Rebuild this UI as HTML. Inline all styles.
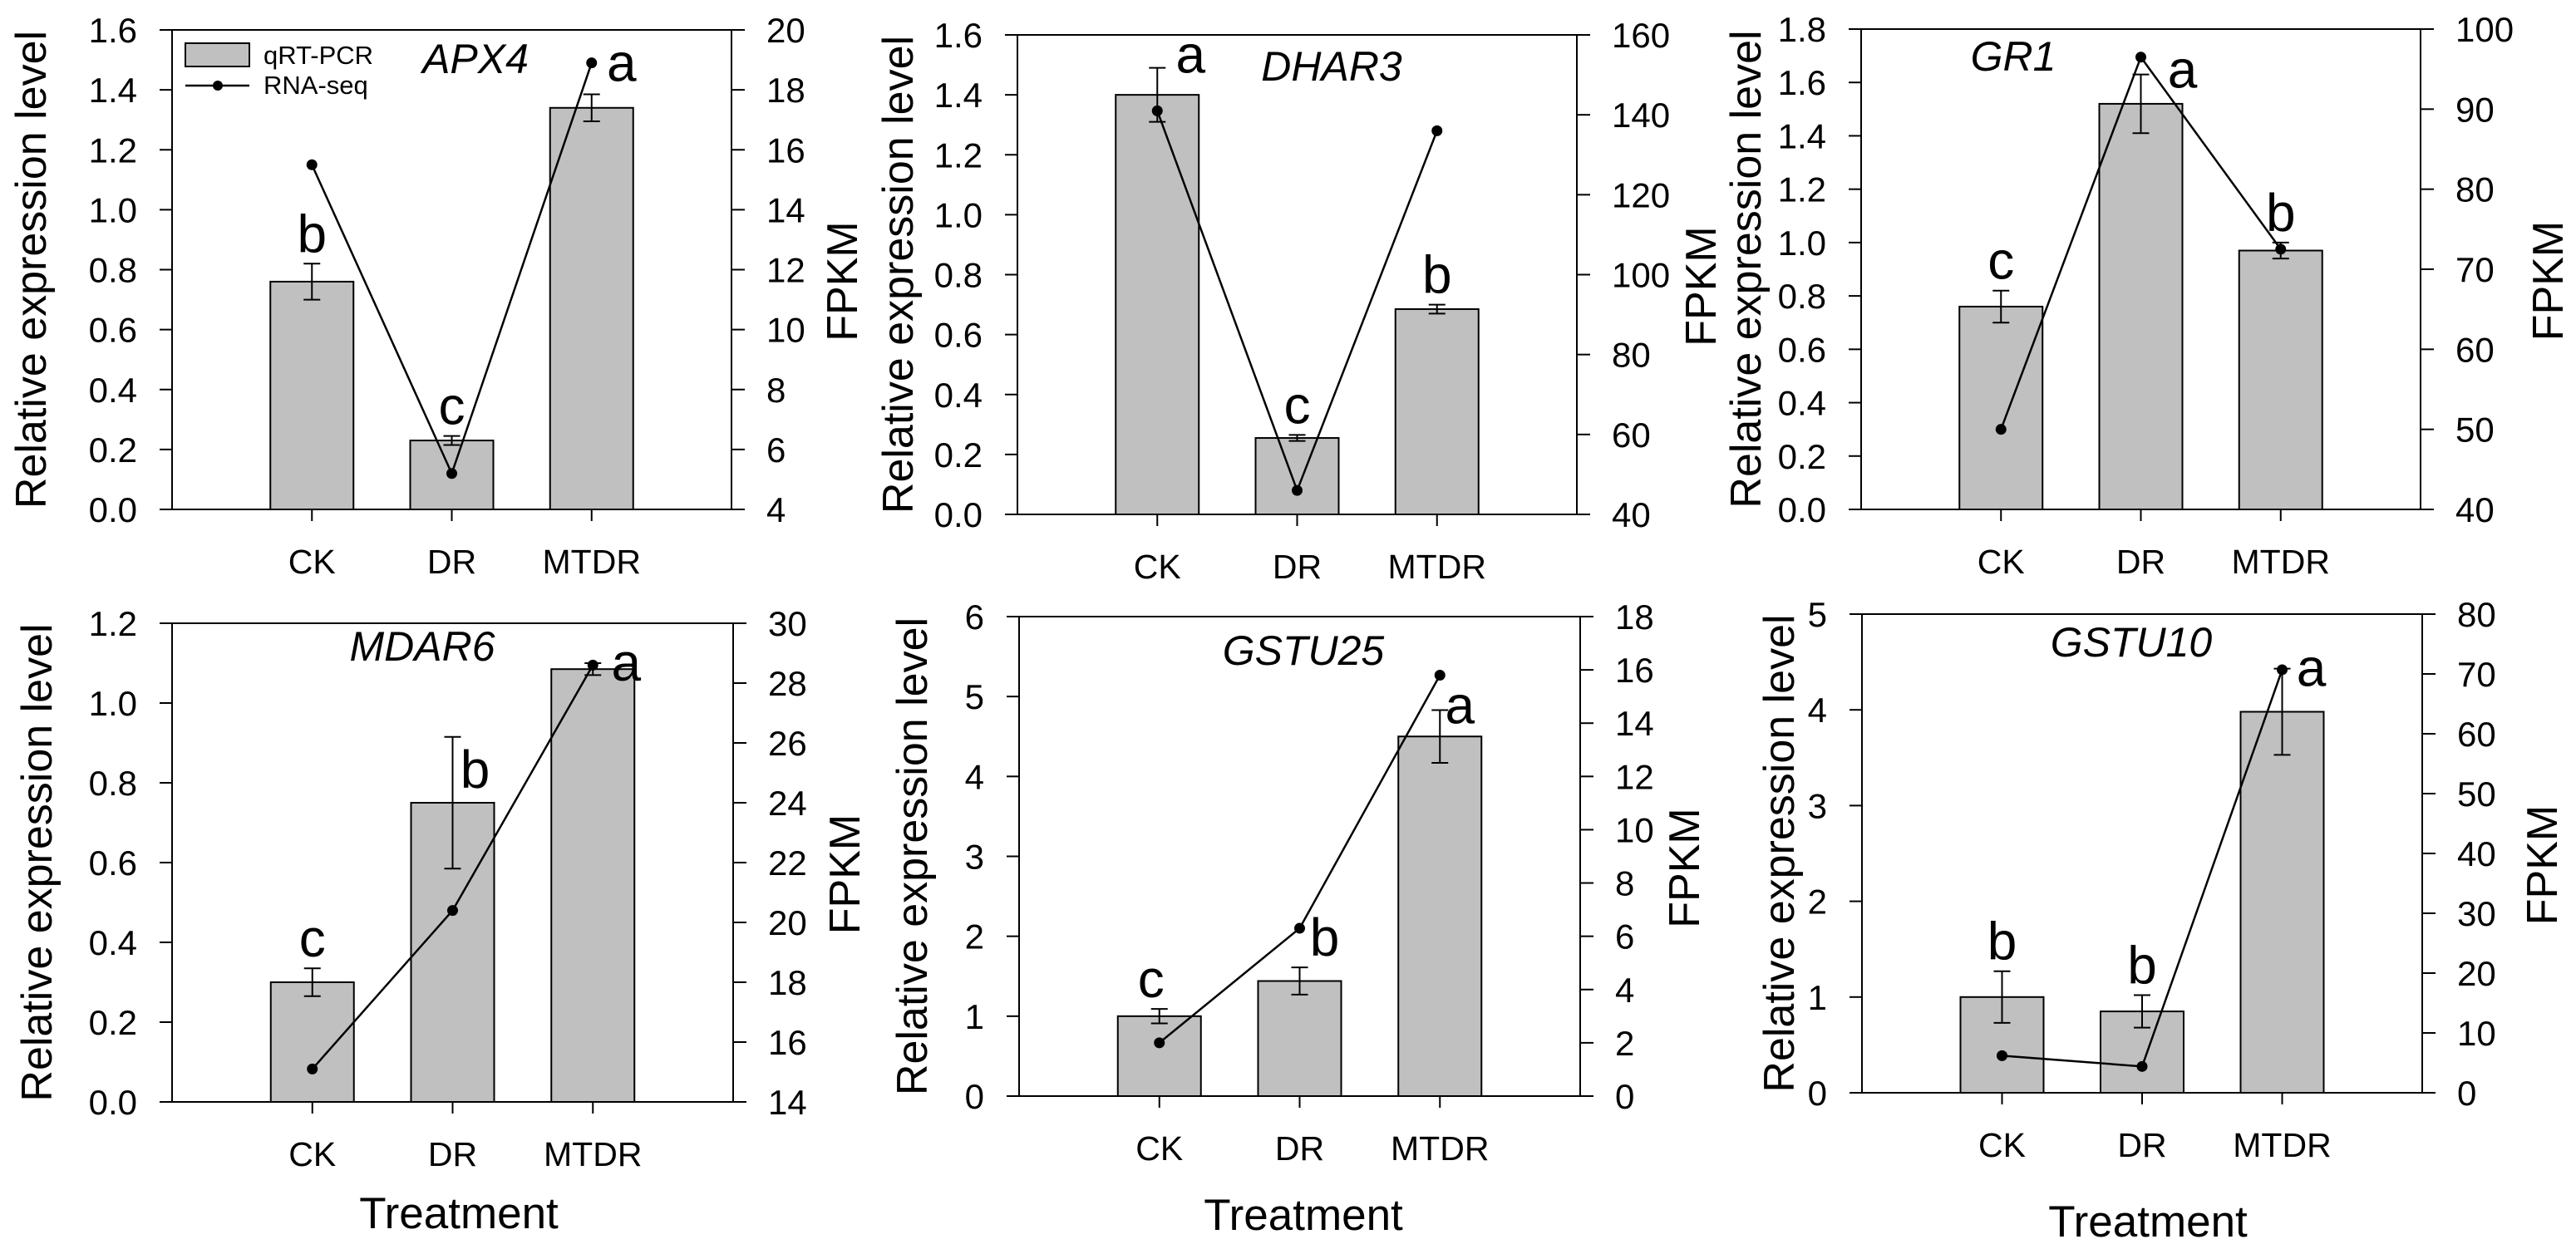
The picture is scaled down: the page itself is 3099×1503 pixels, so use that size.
<!DOCTYPE html>
<html><head><meta charset="utf-8"><style>
html,body{margin:0;padding:0;background:#fff;}
svg{display:block;font-family:"Liberation Sans",Arial,sans-serif;}
</style></head><body>
<svg id="chart" width="3099" height="1503" viewBox="0 0 3099 1503" xmlns="http://www.w3.org/2000/svg"></svg>
<script>
const categories = ["CK","DR","MTDR"];
const genes = ["APX4","DHAR3","GR1","MDAR6","GSTU25","GSTU10"];
const qpcrValues = [[0.76,0.23,1.34],[1.40,0.255,0.685],[0.76,1.52,0.97],[0.30,0.75,1.085],[1.0,1.44,4.5],[1.0,0.85,3.98]];
const qpcrErrors = [[0.06,0.015,0.045],[0.09,0.01,0.015],[0.06,0.11,0.03],[0.035,0.165,0.015],[0.09,0.17,0.33],[0.27,0.17,0.45]];
const fpkmValues = [[15.5,5.2,18.9],[141,46,136],[50,96.5,72.5],[15.1,20.4,28.6],[2.0,6.3,15.8],[6.2,4.4,70.7]];
const sigLetters = [["b","c","a"],["a","c","b"],["c","a","b"],["c","b","a"],["c","b","a"],["b","b","a"]];
const leftTicks = [["0.0","0.2","0.4","0.6","0.8","1.0","1.2","1.4","1.6"],["0.0","0.2","0.4","0.6","0.8","1.0","1.2","1.4","1.6"],["0.0","0.2","0.4","0.6","0.8","1.0","1.2","1.4","1.6","1.8"],["0.0","0.2","0.4","0.6","0.8","1.0","1.2"],["0","1","2","3","4","5","6"],["0","1","2","3","4","5"]];
const rightTicks = [["4","6","8","10","12","14","16","18","20"],["40","60","80","100","120","140","160"],["40","50","60","70","80","90","100"],["14","16","18","20","22","24","26","28","30"],["0","2","4","6","8","10","12","14","16","18"],["0","10","20","30","40","50","60","70","80"]];

// layout (not data)
const layout = [
 {L:207,R:880,T:36,B:613,ylx:37,fx:1013,tx:572,ty:88,treat:false,legend:true,ldx:[0,0,36],lwy:[0,0,-2]},
 {L:1224,R:1897,T:42,B:619,ylx:1080,fx:2046,tx:1602,ty:97,treat:false,ldx:[40,0,0],lwy:[20,0,0]},
 {L:2239,R:2912,T:35,B:613,ylx:2100,fx:3065,tx:2422,ty:85,treat:false,ldx:[0,50,0],lwy:[0,30,0]},
 {L:207,R:882,T:750,B:1326,ylx:44,fx:1016,tx:508,ty:795,treat:true,trx:552,try:1478,ldx:[0,27,40],lwy:[0,75,35]},
 {L:1226,R:1901,T:742,B:1319,ylx:1097,fx:2026,tx:1568,ty:800,treat:true,trx:1568,try:1480,ldx:[-10,30,24],lwy:[0,0,30]},
 {L:2240,R:2914,T:739,B:1315,ylx:2140,fx:3058,tx:2564,ty:790,treat:true,trx:2584,try:1488,ldx:[0,0,35],lwy:[0,0,35]}
];
const svg = document.getElementById('chart');
const NS = "http://www.w3.org/2000/svg";
function mk(tag, attrs, parent, text){
  const e = document.createElementNS(NS, tag);
  for (const k in attrs) e.setAttribute(k, attrs[k]);
  if (text !== undefined) e.textContent = text;
  (parent||svg).appendChild(e);
  return e;
}
genes.forEach((gene, p) => {
  const c = layout[p];
  const g = mk('g', {});
  
  
  const lt = leftTicks[p], rt = rightTicks[p];
  const lmin = parseFloat(lt[0]), lmax = parseFloat(lt[lt.length-1]);
  const rmin = parseFloat(rt[0]), rmax = parseFloat(rt[rt.length-1]);
  const yL = v => c.B - (v - lmin) / (lmax - lmin) * (c.B - c.T);
  const yR = v => c.B - (v - rmin) / (rmax - rmin) * (c.B - c.T);
  const step = (c.R - c.L) / 4;
  const xC = i => c.L + step * (i + 1);
  const fr = mk('path', {d:`M${c.L-15},${c.T}H${c.R+16}M${c.L-15},${c.B}H${c.R+16}M${c.L},${c.T}V${c.B}M${c.R},${c.T}V${c.B}`, stroke:'#000','stroke-width':2, fill:'none'}, g);
  
  
  lt.forEach(t => {
    const y = yL(parseFloat(t));
    mk('line', {x1:c.L-15, x2:c.L, y1:y, y2:y, stroke:'#000','stroke-width':2}, g);
    const tx = mk('text', {x:c.L-42, y:y+15, 'font-size':42, 'text-anchor':'end'}, g, t);
    
    
  });
  rt.forEach(t => {
    const y = yR(parseFloat(t));
    mk('line', {x1:c.R, x2:c.R+16, y1:y, y2:y, stroke:'#000','stroke-width':2}, g);
    const tx = mk('text', {x:c.R+42, y:y+15, 'font-size':42}, g, t);
    
    
  });
  categories.forEach((cat, i) => {
    const x = xC(i), v = qpcrValues[p][i], e = qpcrErrors[p][i];
    const b = mk('rect', {x:x-50, y:yL(v), width:100, height:c.B-yL(v), fill:'#c0c0c0', stroke:'#000', 'stroke-width':2}, g);
    
    
    const eb = mk('path', {d:`M${x},${yL(v+e)}V${yL(v-e)}M${x-10},${yL(v+e)}H${x+10}M${x-10},${yL(v-e)}H${x+10}`, stroke:'#000','stroke-width':2, fill:'none'}, g);
    
    
    mk('line', {x1:x, x2:x, y1:c.B, y2:c.B+14, stroke:'#000','stroke-width':2}, g);
    const xl = mk('text', {x:x, y:c.B+77, 'font-size':41, 'text-anchor':'middle'}, g, cat);
    
    
    const top = Math.min(yL(v+e), yL(v)) - 14 + c.lwy[i];
    const lt2 = mk('text', {x:x + c.ldx[i], y:top, 'font-size':64, 'text-anchor':'middle'}, g, sigLetters[p][i]);
    
    
  });
  const pts = fpkmValues[p].map((v, i) => `${xC(i)},${yR(v)}`).join(' ');
  const pl = mk('polyline', {points:pts, fill:'none', stroke:'#000', 'stroke-width':2.5}, g);
  
  
  fpkmValues[p].forEach((v, i) => {
    const d = mk('circle', {cx:xC(i), cy:yR(v), r:6.5, fill:'#000'}, g);
    
    
  });
  const gt = mk('text', {x:c.tx, y:c.ty, 'font-size':50, 'font-style':'italic', 'text-anchor':'middle'}, g, gene);
  
  
  const ym = (c.T + c.B) / 2;
  const yt = mk('text', {x:0, y:0, 'font-size':52, 'text-anchor':'middle', transform:`translate(${c.ylx+18},${ym}) rotate(-90)`}, g, 'Relative expression level');
  
  
  const ft = mk('text', {x:0, y:0, 'font-size':52, 'text-anchor':'middle', transform:`translate(${c.fx+18},${ym+14}) rotate(-90)`}, g, 'FPKM');
  
  
  if (c.treat) {
    const tt = mk('text', {x:c.trx, y:c.try, 'font-size':53, 'text-anchor':'middle'}, g, 'Treatment');
    
    
  }
  if (c.legend) {
    const lg = mk('g', {}, g);
    
    
    mk('rect', {x:223, y:52, width:77, height:28, fill:'#c0c0c0', stroke:'#000','stroke-width':2}, lg);
    mk('text', {x:317, y:77, 'font-size':31}, lg, 'qRT-PCR');
    mk('line', {x1:223, x2:300, y1:103, y2:103, stroke:'#000','stroke-width':2.5}, lg);
    mk('circle', {cx:262, cy:103, r:6, fill:'#000'}, lg);
    mk('text', {x:317, y:113, 'font-size':31}, lg, 'RNA-seq');
  }
});
</script>
</body></html>
